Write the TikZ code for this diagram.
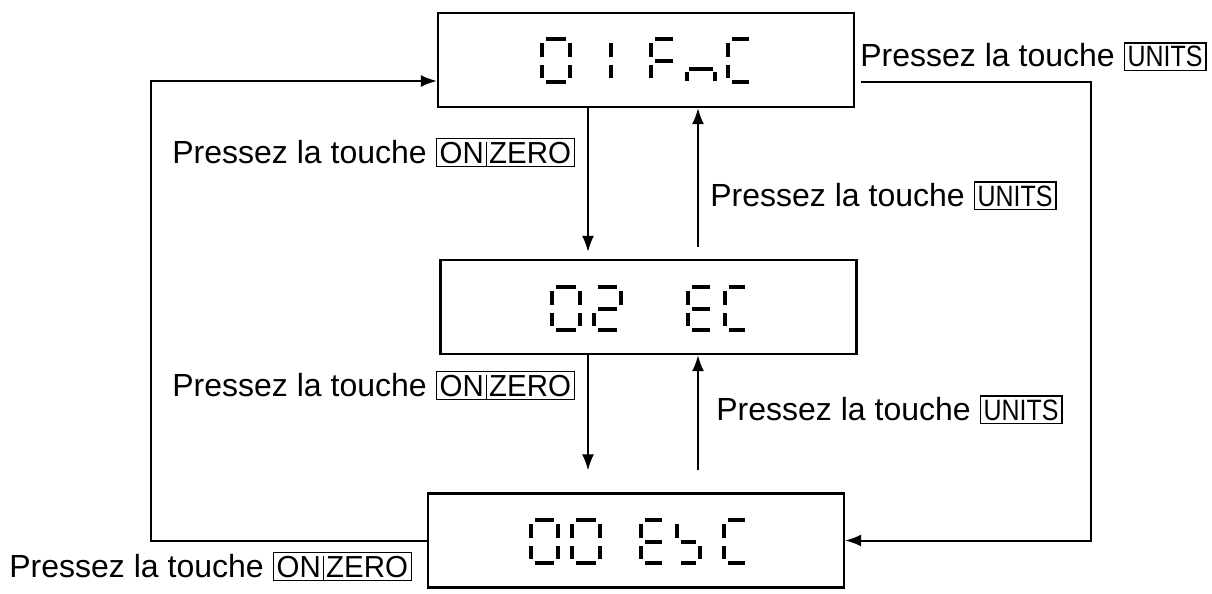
\documentclass[tikz,border=0pt]{standalone}
\usepackage{fontspec}
\setmainfont{Liberation Sans}
\usepackage{graphicx}
\usetikzlibrary{arrows.meta}
\newcommand\keyoz{{\setlength\fboxsep{1.4pt}\setlength\fboxrule{0.6pt}\fbox{\scalebox{0.92}[0.95]{ON\kern1.2pt\smash{\vrule width 0.7pt height 10.8pt depth 1.5pt}\kern1pt ZERO}}}}
\newcommand\keyun{{\setlength\fboxsep{1.4pt}\setlength\fboxrule{0.6pt}\fbox{\scalebox{0.78}[0.92]{UNITS}}}}
\newcommand\segA{\fill (\dL+6,\dT-2) rectangle (\dL+\dW-6,\dT+2);}
\newcommand\segB{\fill (\dL+\dW-4,\dT+4) rectangle (\dL+\dW,\dT+17.5);}
\newcommand\segC{\fill (\dL+\dW-4,\dT+25.5) rectangle (\dL+\dW,\dT+39);}
\newcommand\segD{\fill (\dL+6,\dT+41) rectangle (\dL+\dW-6,\dT+45);}
\newcommand\segE{\fill (\dL,\dT+25.5) rectangle (\dL+4,\dT+39);}
\newcommand\segF{\fill (\dL,\dT+4) rectangle (\dL+4,\dT+17.5);}
\newcommand\segG{\fill (\dL+6,\dT+19.5) rectangle (\dL+\dW-6,\dT+23.5);}
\newcommand\segN{\fill (\dL+4,\dT+28) rectangle (\dL+\dW-4,\dT+32);
  \fill (\dL,\dT+33) rectangle (\dL+4,\dT+41.5);
  \fill (\dL+\dW-4,\dT+33) rectangle (\dL+\dW,\dT+41.5);}
\newcommand\sevdig[4]{\def\dL{#1}\def\dT{#2}\def\dW{#3}#4}
\begin{document}
\begin{tikzpicture}[x=0.5pt,y=-0.5pt,
  dispbox/.style={draw, line width=1.1pt, minimum width=208pt, minimum height=47pt, inner sep=0pt},
  lbl/.style={anchor=base west, inner sep=0pt, font=\fontsize{16pt}{19pt}\selectfont},
  conn/.style={line width=1pt, -{Latex[length=8pt,width=6pt]}}]
\useasboundingbox (0,0) rectangle (1212,594);
\node[dispbox] (top) at (646,60) {};
\node[dispbox] (mid) at (648.5,307) {};
\node[dispbox] (bot) at (636,540.5) {};
% digits top: 01FnC
\sevdig{540}{39}{32}{\segA\segB\segC\segD\segE\segF}
\sevdig{581}{39}{32}{\segB\segC}
\sevdig{649}{39}{30}{\segA\segF\segE\segG}
\sevdig{685}{39}{32}{\segN}
\sevdig{726}{39}{29}{\segA\segF\segE\segD}
% digits middle: 02 EC
\sevdig{550}{287}{32}{\segA\segB\segC\segD\segE\segF}
\sevdig{592}{287}{31}{\segA\segB\segG\segE\segD}
\sevdig{686}{287}{30}{\segA\segF\segG\segE\segD}
\sevdig{723}{287}{28}{\segA\segF\segE\segD}
% digits bottom: 00 EsC
\sevdig{529}{520}{31}{\segA\segB\segC\segD\segE\segF}
\sevdig{570}{520}{32}{\segA\segB\segC\segD\segE\segF}
\sevdig{639}{520}{29}{\segA\segF\segG\segE\segD}
\sevdig{675}{520}{27}{\segF\segG\segC\segD}
\sevdig{722}{520}{29}{\segA\segF\segE\segD}
% connectors
\coordinate (xa) at (588,0);
\coordinate (xb) at (698,0);
\draw[conn, shorten >=3.5pt] (top.south -| xa) -- (mid.north -| xa);
\draw[conn, shorten <=6pt] (mid.north -| xb) -- (top.south -| xb);
\draw[conn, shorten >=11pt] (mid.south -| xa) -- (bot.north -| xa);
\draw[conn, shorten <=11pt] (bot.north -| xb) -- (mid.south -| xb);
\coordinate (lc) at (151,81);
\draw[conn] (bot.west) -| (lc) -- (top.west |- lc);
\coordinate (rc) at (1091,82);
\draw[conn, shorten <=3pt] (top.east |- rc) -- (rc) |- (bot.east);
% labels
\node[lbl] (l1) at (172,163) {Pressez la touche \keyoz};
\node[lbl] (l2) at (710,206) {Pressez la touche \keyun};
\node[lbl] (l3) at (860,67) {Pressez la touche \keyun};
\node[lbl] (l4) at (172,396) {Pressez la touche \keyoz};
\node[lbl] (l5) at (716,420) {Pressez la touche \keyun};
\node[lbl] (l6) at (9,577) {Pressez la touche \keyoz};
\end{tikzpicture}
\end{document}
